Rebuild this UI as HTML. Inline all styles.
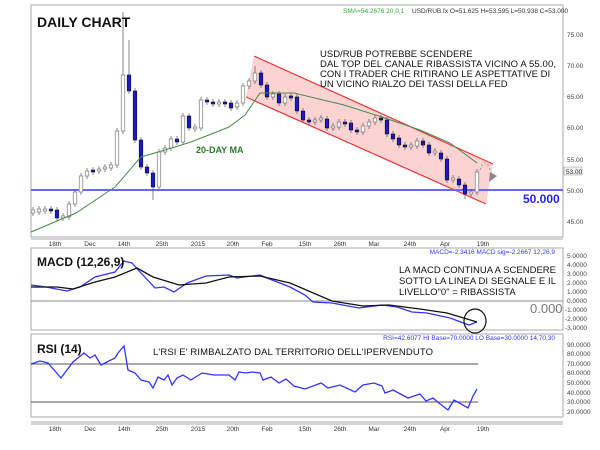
<!DOCTYPE html>
<html><head><meta charset="utf-8"><style>
body{margin:0;background:#fff;width:600px;height:450px;overflow:hidden}
svg{display:block;font-family:"Liberation Sans",Arial,sans-serif}
</style></head><body>
<svg width="600" height="450" xmlns="http://www.w3.org/2000/svg">
<rect width="600" height="450" fill="#fff"/>
<rect x="31" y="5" width="532" height="232" fill="#fff" stroke="#aaa"/>
<polygon points="254,56 493,164 486,204 246,97" fill="#fbd3d3"/>
<line x1="254" y1="56" x2="493" y2="164" stroke="#e33" stroke-width="1.2"/>
<line x1="246" y1="97" x2="486" y2="204" stroke="#e33" stroke-width="1.2"/>
<line x1="31" y1="190" x2="563" y2="190" stroke="#66f" stroke-width="2"/>
<path fill="none" stroke="#555" stroke-width="0.7" d="M33 207V216M39 206V215M45 206V214M51 206V214M57 207V221M63 213V221M69 201V220M75 189V207M81 173V195M87 168V179M93 167V175M99 166V174M105 164V172M111 162V171M117 128V168M123 12V134M129 40V94M135 88V143M141 137V170M147 164V176M153 170V200M159 149V190M165 145V155M171 136V151M177 136V145M183 113V145M189 113V131M195 124V132M201 97V131M207 97V105M213 99V107M219 99V107M225 99V107M231 100V111M237 100V110M243 83V106M249 78V89M255 66V84M261 70V88M267 82V100M273 91V100M279 91V106M285 94V106M291 93V101M297 94V114M303 108V123M309 117V125M315 117V125M321 115V123M327 116V131M333 123V131M339 119V130M345 119V127M351 120V133M357 127V135M363 123V135M369 119V129M375 115V125M381 115V123M387 117V137M393 131V142M399 135V148M405 142V150M411 142V150M417 138V149M423 138V148M429 142V156M435 148V156M441 150V162M447 156V183M453 175V183M459 176V188M465 182V199M471 189V197M477 169V195"/>
<g fill="#fff" stroke="#666" stroke-width="0.6">
<rect x="31.2" y="210" width="3.6" height="3"/><rect x="37.2" y="209" width="3.6" height="3"/><rect x="43.2" y="209" width="3.6" height="2"/>
<rect x="61.2" y="216" width="3.6" height="2"/><rect x="67.2" y="204" width="3.6" height="13"/><rect x="73.2" y="192" width="3.6" height="12"/>
<rect x="79.2" y="176" width="3.6" height="16"/><rect x="85.2" y="171" width="3.6" height="5"/><rect x="97.2" y="169" width="3.6" height="2"/>
<rect x="103.2" y="167" width="3.6" height="2"/><rect x="109.2" y="165" width="3.6" height="3"/><rect x="115.2" y="131" width="3.6" height="34"/>
<rect x="121.2" y="75" width="3.6" height="56"/><rect x="157.2" y="152" width="3.6" height="35"/><rect x="163.2" y="148" width="3.6" height="4"/>
<rect x="169.2" y="139" width="3.6" height="9"/><rect x="181.2" y="116" width="3.6" height="26"/><rect x="193.2" y="127" width="3.6" height="2"/>
<rect x="199.2" y="100" width="3.6" height="28"/><rect x="217.2" y="102" width="3.6" height="2"/><rect x="235.2" y="103" width="3.6" height="4"/>
<rect x="241.2" y="86" width="3.6" height="17"/><rect x="247.2" y="81" width="3.6" height="5"/><rect x="253.2" y="73" width="3.6" height="8"/>
<rect x="271.2" y="94" width="3.6" height="3"/><rect x="283.2" y="97" width="3.6" height="6"/><rect x="313.2" y="120" width="3.6" height="2"/>
<rect x="319.2" y="118" width="3.6" height="2"/><rect x="331.2" y="126" width="3.6" height="2"/><rect x="337.2" y="122" width="3.6" height="5"/>
<rect x="361.2" y="126" width="3.6" height="6"/><rect x="367.2" y="122" width="3.6" height="4"/><rect x="373.2" y="118" width="3.6" height="4"/>
<rect x="409.2" y="145" width="3.6" height="2"/><rect x="415.2" y="141" width="3.6" height="5"/><rect x="433.2" y="151" width="3.6" height="2"/>
<rect x="451.2" y="178" width="3.6" height="2"/><rect x="469.2" y="192" width="3.6" height="2"/><rect x="475.2" y="172" width="3.6" height="20"/>
</g>
<g fill="#1a1acc" stroke="#111" stroke-width="0.6">
<rect x="49.2" y="209" width="3.6" height="2"/><rect x="55.2" y="210" width="3.6" height="8"/><rect x="91.2" y="170" width="3.6" height="2"/>
<rect x="127.2" y="75" width="3.6" height="16"/><rect x="133.2" y="91" width="3.6" height="49"/><rect x="139.2" y="140" width="3.6" height="27"/>
<rect x="145.2" y="167" width="3.6" height="6"/><rect x="151.2" y="173" width="3.6" height="14"/><rect x="175.2" y="139" width="3.6" height="3"/>
<rect x="187.2" y="116" width="3.6" height="12"/><rect x="205.2" y="100" width="3.6" height="2"/><rect x="211.2" y="102" width="3.6" height="2"/>
<rect x="223.2" y="102" width="3.6" height="2"/><rect x="229.2" y="103" width="3.6" height="5"/><rect x="259.2" y="73" width="3.6" height="12"/>
<rect x="265.2" y="85" width="3.6" height="12"/><rect x="277.2" y="94" width="3.6" height="9"/><rect x="289.2" y="96" width="3.6" height="2"/>
<rect x="295.2" y="97" width="3.6" height="14"/><rect x="301.2" y="111" width="3.6" height="9"/><rect x="307.2" y="120" width="3.6" height="2"/>
<rect x="325.2" y="119" width="3.6" height="9"/><rect x="343.2" y="122" width="3.6" height="2"/><rect x="349.2" y="123" width="3.6" height="7"/>
<rect x="355.2" y="130" width="3.6" height="2"/><rect x="379.2" y="118" width="3.6" height="2"/><rect x="385.2" y="120" width="3.6" height="14"/>
<rect x="391.2" y="134" width="3.6" height="5"/><rect x="397.2" y="138" width="3.6" height="7"/><rect x="403.2" y="145" width="3.6" height="2"/>
<rect x="421.2" y="141" width="3.6" height="4"/><rect x="427.2" y="145" width="3.6" height="8"/><rect x="439.2" y="153" width="3.6" height="6"/>
<rect x="445.2" y="159" width="3.6" height="21"/><rect x="457.2" y="179" width="3.6" height="6"/><rect x="463.2" y="185" width="3.6" height="9"/>
</g>
<polyline fill="none" stroke="#4a8a4a" stroke-width="1" points="31,232 76,213 115,187 141,157 165,150 191,142 229,127 245,115 260,93 294,93 344,105 382,117 420,130 450,143 477,163"/>
<path d="M480,170 Q485,155 491,172" fill="none" stroke="#999" stroke-dasharray="2,2"/>
<polygon points="490,172 497,176 489,182" fill="#888"/>
<line x1="31" y1="239" x2="563" y2="239" stroke="#aaa"/>
<text x="37" y="27" font-size="14" font-weight="bold" fill="#111">DAILY CHART</text>
<text x="343" y="13" font-size="6.5" fill="#3a3">SMA=54.2676  20,0,1</text>
<text x="412" y="13" font-size="6.5" fill="#333">USD/RUB.fx O=51.625 H=53.595 L=50.938 C=53.000</text>
<g font-size="9.5" fill="#111">
<text x="320" y="57">USD/RUB POTREBBE SCENDERE</text>
<text x="320" y="67" textLength="236">DAL TOP DEL CANALE RIBASSISTA VICINO A 55.00,</text>
<text x="320" y="77">CON I TRADER CHE RITIRANO LE ASPETTATIVE DI</text>
<text x="320" y="87">UN VICINO RIALZO DEI TASSI DELLA FED</text>
</g>
<text x="196" y="153" font-size="9" font-weight="bold" fill="#2a7a2a">20-DAY MA</text>
<g font-size="6.5" fill="#444">
<text x="567" y="37">75.00</text><text x="567" y="68">70.00</text><text x="567" y="99">65.00</text>
<text x="567" y="130">60.00</text><text x="567" y="162">55.00</text><text x="567" y="193">50.00</text><text x="567" y="224">45.00</text>
</g>
<rect x="564" y="167" width="18" height="8" fill="#eee" stroke="#999" stroke-width="0.5"/>
<text x="566" y="174" font-size="6.5" fill="#333">53.00</text>
<text x="523" y="203" font-size="12" font-weight="bold" fill="#22f">50.000</text>
<g font-size="6.5" fill="#333" text-anchor="middle">
<text x="55" y="246">18th</text><text x="90" y="246">Dec</text><text x="124" y="246">14th</text><text x="162" y="246">25th</text><text x="198" y="246">2015</text><text x="233" y="246">20th</text><text x="267" y="246">Feb</text><text x="305" y="246">15th</text><text x="340" y="246">26th</text><text x="374" y="246">Mar</text><text x="410" y="246">24th</text><text x="445" y="246">Apr</text><text x="483" y="246">19th</text>
<text x="55" y="431">18th</text><text x="90" y="431">Dec</text><text x="124" y="431">14th</text><text x="162" y="431">25th</text><text x="198" y="431">2015</text><text x="233" y="431">20th</text><text x="267" y="431">Feb</text><text x="305" y="431">15th</text><text x="340" y="431">26th</text><text x="374" y="431">Mar</text><text x="410" y="431">24th</text><text x="445" y="431">Apr</text><text x="483" y="431">19th</text>
</g>
<rect x="31" y="248" width="532" height="82" fill="none" stroke="#aaa"/>
<line x1="31" y1="301" x2="563" y2="301" stroke="#888"/>
<polyline fill="none" stroke="#33f" stroke-width="1.3" points="31,285 46,287 67,291 80,287 95,277 115,272 124,261 132,263 141,273 155,288 164,287 174,292 187,283 206,276 229,275 237,278 260,275 267,278 290,287 305,295 313,302 332,303 359,308 382,305 397,307 412,312 427,313 450,318 469,325 477,322"/>
<polyline fill="none" stroke="#111" stroke-width="1.3" points="31,287 57,287 73,289 95,282 115,277 137,268 153,277 179,285 206,283 229,277 260,276 290,283 332,301 363,306 389,305 420,309 447,313 477,322"/>
<ellipse cx="475" cy="321" rx="11" ry="12" fill="none" stroke="#111" stroke-width="1.2"/>
<text x="37" y="266" font-size="12" font-weight="bold" fill="#111">MACD (12,26,9)</text>
<text x="555" y="254" font-size="6.5" fill="#33f" text-anchor="end">MACD=-2.3416 MACD sig=-2.2667   12,26,9</text>
<g font-size="9.5" fill="#111">
<text x="399" y="273" textLength="157">LA MACD CONTINUA A SCENDERE</text>
<text x="399" y="284" textLength="157">SOTTO LA LINEA DI SEGNALE E IL</text>
<text x="399" y="295">LIVELLO"0" = RIBASSISTA</text>
</g>
<text x="530" y="313" font-size="13" fill="#777">0.000</text>
<g font-size="6.5" fill="#444">
<text x="567" y="258">5.0000</text><text x="567" y="267">4.0000</text><text x="567" y="276">3.0000</text>
<text x="567" y="285">2.0000</text><text x="567" y="294">1.0000</text><text x="567" y="303">0.0000</text>
<text x="565" y="312">-1.0000</text><text x="565" y="321">-2.0000</text><text x="565" y="330">-3.0000</text>
</g>
<rect x="31" y="334" width="532" height="83" fill="none" stroke="#aaa"/>
<line x1="31" y1="364" x2="478" y2="364" stroke="#555"/>
<line x1="31" y1="402" x2="478" y2="402" stroke="#555"/>
<polyline fill="none" stroke="#33f" stroke-width="1.3" points="31,364 40,361 48,363 61,378 73,362 84,353 90,358 95,355 101,365 115,358 118,353 124,346 128,370 135,373 141,380 149,382 153,388 158,377 164,380 168,375 172,385 177,378 183,375 191,380 202,373 214,375 229,375 235,380 239,372 246,373 252,372 260,373 263,380 271,377 279,383 286,379 294,386 305,389 321,383 328,388 340,385 355,392 363,385 374,383 382,386 385,393 393,390 408,398 420,394 426,401 433,398 439,403 448,410 454,400 468,408 473,396 477,389"/>
<text x="37" y="353" font-size="12" font-weight="bold" fill="#111">RSI (14)</text>
<text x="555" y="340" font-size="6.5" fill="#33f" text-anchor="end">RSI=42.6077 HI Base=70.0000 LO Base=30.0000   14,70,30</text>
<text x="153" y="355" font-size="9.5" fill="#111" textLength="280">L'RSI E' RIMBALZATO DAL TERRITORIO DELL'IPERVENDUTO</text>
<g font-size="6.5" fill="#444">
<text x="567" y="347">90.0000</text><text x="567" y="356">80.0000</text><text x="567" y="366">70.0000</text>
<text x="567" y="375">60.0000</text><text x="567" y="385">50.0000</text><text x="567" y="395">40.0000</text>
<text x="567" y="404">30.0000</text><text x="567" y="414">20.0000</text>
</g>
<line x1="31" y1="422" x2="563" y2="422" stroke="#aaa"/>
<line x1="31" y1="424" x2="563" y2="424" stroke="#aaa"/>
</svg>
</body></html>
